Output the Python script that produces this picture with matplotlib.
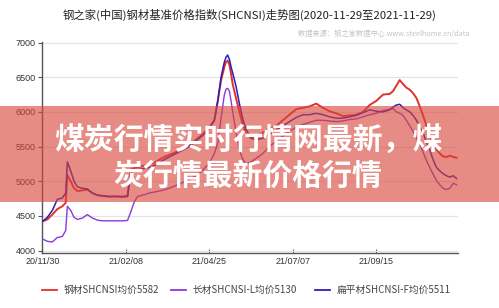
import matplotlib
matplotlib.use('Agg')
import matplotlib.pyplot as plt
from matplotlib.patches import Rectangle

# === DATA (trading-day index) ===
day_idx = [0, 3, 6, 9, 12, 14, 15, 17, 19, 21, 24, 27, 30, 33, 36, 40, 44, 48, 51,
           53, 55, 57, 60, 64, 68, 72, 76, 80, 84, 88, 92, 96, 100, 103, 105, 107,
           109, 110, 111, 112, 113, 114, 116, 118, 120, 122, 125, 128, 132, 136,
           140, 144, 148, 152, 156, 160, 164, 168, 172, 176, 180, 184, 188, 192,
           196, 200, 204, 208, 210, 212, 214, 216, 218, 220, 222, 224, 226, 228,
           230, 232, 234, 236, 238, 240, 242, 244, 246, 248]

steel_avg = [4420, 4450, 4520, 4600, 4640, 4690, 5090, 5000, 4900, 4860, 4870, 4880,
             4830, 4800, 4790, 4780, 4785, 4780, 4790, 5170, 5190, 5200, 5220, 5240,
             5280, 5340, 5380, 5420, 5480, 5520, 5600, 5680, 5780, 5880, 6150, 6450,
             6650, 6720, 6740, 6680, 6550, 6400, 6200, 6000, 5820, 5700, 5620, 5650,
             5700, 5760, 5800, 5880, 5960, 6040, 6060, 6080, 6120, 6060, 6010, 5980,
             5940, 5950, 5960, 6000, 6100, 6160, 6250, 6260, 6300, 6380, 6460, 6400,
             6350, 6320, 6270, 6200, 6080, 5950, 5800, 5650, 5550, 5460, 5400, 5360,
             5350, 5370, 5350, 5340]

flat_steel = [4420, 4480, 4580, 4740, 4760, 4830, 5280, 5150, 5000, 4920, 4900, 4890,
              4830, 4800, 4790, 4780, 4780, 4775, 4780, 5120, 5150, 5170, 5180, 5200,
              5240, 5300, 5350, 5400, 5450, 5500, 5580, 5660, 5760, 5880, 6150, 6500,
              6720, 6790, 6820, 6760, 6650, 6560, 6370, 6120, 5900, 5750, 5620, 5600,
              5620, 5680, 5740, 5800, 5860, 5920, 5960, 5960, 5980, 5960, 5930, 5910,
              5910, 5930, 5950, 5990, 6030, 6010, 6000, 6030, 6070, 6100, 6110, 6060,
              6030, 6000, 5950, 5880, 5780, 5700, 5560, 5450, 5310, 5200, 5150, 5110,
              5080, 5060, 5080, 5040]

long_steel = [4170, 4135, 4125, 4190, 4205, 4290, 4640, 4580, 4480, 4450, 4470, 4520,
              4470, 4440, 4430, 4430, 4430, 4430, 4435, 4560, 4700, 4780, 4800, 4830,
              4850, 4870, 4900, 4940, 4980, 5020, 5080, 5160, 5260, 5400, 5550, 5900,
              6250, 6330, 6340, 6300, 6160, 6000, 5700, 5450, 5320, 5250, 5280, 5330,
              5400, 5500, 5580, 5650, 5720, 5780, 5820, 5850, 5880, 5880, 5870, 5860,
              5870, 5890, 5900, 5930, 5960, 5980, 6020, 6040, 6050, 6000, 5980, 5950,
              5880, 5800, 5720, 5620, 5540, 5420, 5300, 5200, 5100, 5010, 4950, 4900,
              4880, 4900, 4970, 4950]

tick_pos = [0, 50, 100, 150, 200]
tick_labels = ['20/11/30', '21/02/08', '21/04/25', '21/07/07', '21/09/15']
legend_labels = ['钢材SHCNSI均价5582', '长材SHCNSI-L均价5130', '扁平材SHCNSI-F均价5511']

title = '钢之家(中国)钢材基准价格指数(SHCNSI)走势图(2020-11-29至2021-11-29)'
source = '数据来源：钢之家数据中心 www.steelhome.cn/data'
banner = '煤炭行情实时行情网最新，煤\n炭行情最新价格行情'

RED = '#e2302b'
PURPLE = '#8a3ad6'
BLUE = '#2a1fb8'

plt.rcParams['font.family'] = ['Noto Sans CJK SC', 'DejaVu Sans']

fig = plt.figure(figsize=(4.99, 3.08), dpi=100)
ax = fig.add_axes([0.0848, 0.1776, 0.8324, 0.6864])

ax.plot(day_idx, long_steel, color=PURPLE, lw=1.0, zorder=3)
ax.plot(day_idx, steel_avg, color=RED, lw=1.4, zorder=4)
ax.plot(day_idx, flat_steel, color=BLUE, lw=1.1, zorder=5)

ax.set_xlim(0, 248.7)
ax.set_ylim(3962, 7010)
ax.set_yticks([4000, 4500, 5000, 5500, 6000, 6500, 7000])
ax.set_xticks(tick_pos)
ax.set_xticklabels(tick_labels)
ax.grid(axis='y', color='#e4e4e4', lw=0.9)
ax.set_axisbelow(True)
for s in ['top', 'right']:
    ax.spines[s].set_visible(False)
for s in ['left', 'bottom']:
    ax.spines[s].set_color('#555555')
    ax.spines[s].set_linewidth(1.0)
ax.tick_params(axis='y', length=3, width=0.8, color='#555555', labelsize=6.5,
               labelcolor='#333333', pad=2)
ax.tick_params(axis='x', direction='in', length=3, width=0.8, color='#555555',
               labelsize=6.5, labelcolor='#333333', pad=3)
for lab in ax.get_xticklabels() + ax.get_yticklabels():
    lab.set_family('Liberation Sans')

fig.text(0.5, 0.952, title, ha='center', va='center', fontsize=8.2, color='#222222')
fig.text(0.768, 0.89, source, ha='center', va='center', fontsize=5.2, color='#c4c4c4')

# legend drawn by hand below the axes
leg_y = 0.058
leg_x = [0.085, 0.342, 0.632]
for x0, lab, col in zip(leg_x, legend_labels, [RED, PURPLE, BLUE]):
    fig.add_artist(plt.Line2D([x0, x0 + 0.03], [leg_y, leg_y], color=col, lw=1.3,
                              transform=fig.transFigure))
    fig.text(x0 + 0.043, leg_y, lab, ha='left', va='center', fontsize=7, color='#444444')

# overlay banner
fig.add_artist(Rectangle((0, 1 - 202 / 308), 1, 96 / 308, transform=fig.transFigure,
                         facecolor='#d8463a', alpha=0.62, edgecolor='none', zorder=10))
fig.text(0.497, 1 - 158 / 308, banner, ha='center', va='center', fontsize=21.5,
         fontweight='bold', color='white', linespacing=1.25, zorder=11)

fig.savefig('out.png', dpi=100)
